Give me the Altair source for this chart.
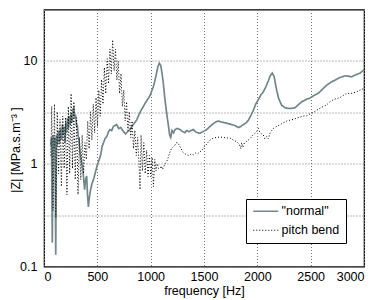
import altair as alt
import pandas as pd

# "normal" curve
normal_f = [62, 70, 78, 85, 95, 103, 110, 117, 125, 135, 145, 155, 165, 172, 180, 190, 196, 205, 212, 220,
            228, 238, 246, 255, 263, 272, 280, 288, 296, 305, 312, 320, 330, 338, 348, 360, 370, 381, 390, 400,
            408, 416, 425, 437, 450, 469, 485, 500, 515, 530, 547, 560, 572, 590, 605, 619, 635, 650, 665, 681,
            700, 720, 744, 765, 785, 806, 830, 850, 869, 890, 910, 931, 950, 970, 994, 1010, 1025, 1041, 1055, 1068,
            1081, 1095, 1108, 1119, 1133, 1150, 1165, 1178, 1188, 1200, 1215, 1228, 1250, 1275, 1300, 1320, 1338, 1360, 1380, 1400,
            1420, 1440, 1463, 1490, 1525, 1555, 1588, 1610, 1634, 1660, 1697, 1730, 1759, 1790, 1822, 1845, 1869, 1895, 1916, 1940,
            1962, 1985, 2009, 2030, 2056, 2080, 2103, 2122, 2141, 2158, 2170, 2181, 2200, 2228, 2260, 2291, 2320, 2353, 2385, 2416,
            2455, 2494, 2530, 2572, 2610, 2650, 2690, 2728, 2775, 2822, 2855, 2884, 2920, 2963, 3000]
normal_z = [1.5, 1.8, 0.17, 1.9, 1.4, 1.8, 0.13, 1.9, 1.5, 2.1, 1.6, 2.2, 1.7, 2.4, 1.9, 2.3, 1.6, 2.5, 2.0, 2.8,
            2.2, 2.9, 2.4, 3.1, 2.5, 3.4, 3.5, 2.8, 3.0, 2.3, 2.4, 1.9, 1.6, 1.3, 1.1, 0.94, 0.75, 0.56, 0.7, 0.76,
            0.5, 0.38, 0.47, 0.56, 0.64, 0.73, 0.85, 0.97, 1.08, 1.2, 1.5, 1.62, 1.75, 1.85, 2.05, 2.15, 2.1, 2.3, 2.35, 2.4,
            2.2, 2.25, 2.06, 1.95, 2.05, 2.15, 2.35, 2.5, 2.67, 3.0, 3.3, 3.6, 3.9, 4.2, 4.6, 5.1, 5.6, 6.5, 7.6, 8.8,
            9.5, 9.0, 7.4, 6.0, 4.3, 3.1, 2.4, 1.9, 1.8, 2.1, 2.0, 2.15, 2.2, 2.15, 2.05, 2.0, 2.1, 2.05, 2.1, 2.15,
            2.05, 2.0, 1.98, 2.05, 2.15, 2.3, 2.45, 2.55, 2.6, 2.55, 2.5, 2.45, 2.4, 2.35, 2.25, 2.3, 2.4, 2.5, 2.65, 2.95,
            3.3, 3.8, 4.2, 4.6, 5.0, 5.6, 6.4, 7.2, 7.6, 7.0, 6.0, 5.2, 4.3, 3.7, 3.5, 3.45, 3.45, 3.5, 3.75, 4.0,
            4.2, 4.35, 4.6, 4.85, 5.3, 5.8, 6.2, 6.5, 6.9, 7.15, 7.1, 7.0, 7.3, 7.6, 8.2]

# "pitch bend" curve
bend_f = [65, 72, 85, 98, 111, 124, 137, 150, 163, 176, 189, 202, 215, 228, 241, 254, 267, 280, 293, 306,
          319, 332, 345, 358, 371, 384, 397, 410, 423, 436, 449, 462, 475, 488, 501, 514, 527, 540, 553, 566,
          579, 592, 605, 618, 631, 644, 657, 670, 683, 696, 709, 722, 735, 748, 761, 774, 787, 800, 813, 826,
          839, 852, 865, 878, 891, 900, 910, 923, 936, 949, 962, 975, 988, 1001, 1014, 1026, 1038, 1050, 1062, 1074,
          1090, 1100, 1110, 1120, 1135,
          1150, 1165, 1180, 1195, 1210, 1225, 1240, 1256, 1270, 1285, 1300, 1320, 1340, 1360, 1380, 1400, 1420, 1440, 1460, 1480,
          1500, 1525, 1556, 1590, 1619, 1650, 1681, 1710, 1744, 1775, 1806, 1830, 1845, 1853, 1865, 1880, 1900, 1931, 1960, 1994,
          2010, 2025, 2040, 2056, 2070, 2088, 2103, 2120, 2150, 2180, 2213, 2245, 2275, 2305, 2338, 2370, 2400, 2430, 2463, 2495,
          2525, 2555, 2588, 2620, 2650, 2680, 2713, 2745, 2775, 2805, 2838, 2870, 2900, 2930, 2963, 3000]
bend_z = [1.2, 3.6, 0.35, 3.8, 0.3, 3.2, 0.8, 2.7, 0.6, 2.9, 0.9, 2.8, 0.5, 3.6, 0.8, 4.8, 0.9, 4.0, 0.7, 2.8,
          0.5, 1.8, 0.7, 1.9, 0.8, 1.6, 1.1, 2.6, 1.4, 3.2, 1.7, 3.8, 2.0, 4.4, 2.3, 5.2, 2.9, 6.6, 3.8, 8.6,
          4.8, 10.5, 6.0, 13.0, 7.5, 16.0, 8.0, 13.0, 6.5, 10.0, 4.8, 7.5, 3.6, 5.2, 2.6, 4.0, 2.1, 3.2, 1.8, 2.6,
          1.4, 2.1, 1.2, 1.8, 1.0, 0.56, 1.9, 0.85, 1.6, 0.8, 1.35, 0.75, 1.2, 0.75, 1.15, 0.6, 1.1, 0.85, 1.0, 0.9,
          0.9, 0.95, 0.88, 0.92, 1.0,
          1.05, 1.15, 1.3, 1.4, 1.45, 1.5, 1.6, 1.6, 1.5, 1.4, 1.3, 1.25, 1.22, 1.2, 1.25, 1.22, 1.27, 1.25, 1.3, 1.35,
          1.45, 1.55, 1.7, 1.78, 1.8, 1.82, 1.8, 1.78, 1.78, 1.7, 1.64, 1.55, 1.4, 1.6, 1.45, 1.6, 1.65, 1.75, 1.9, 2.06,
          2.2, 2.0, 1.95, 1.9, 1.75, 1.84, 1.75, 2.0, 2.2, 2.3, 2.4, 2.5, 2.6, 2.65, 2.7, 2.78, 2.84, 2.9, 2.93, 3.05,
          3.15, 3.3, 3.47, 3.6, 3.74, 4.0, 4.2, 4.3, 4.4, 4.6, 4.85, 4.8, 4.9, 5.0, 5.2, 5.4]

series_names = ['"normal"', "pitch bend"]

df = pd.concat([
    pd.DataFrame({"f": normal_f, "z": normal_z, "s": series_names[0], "o": 0}),
    pd.DataFrame({"f": bend_f, "z": bend_z, "s": series_names[1], "o": 1}),
])

font = "Liberation Sans"

legend_kw = dict(title=None, orient="none", legendX=202, legendY=189.5,
                 fillColor="white", strokeColor="black", padding=6,
                 symbolType="M-1,0H4", symbolSize=100, symbolStrokeWidth=1.5,
                 labelFont=font, labelFontSize=12.5, labelColor="black",
                 labelOffset=17, rowPadding=6, labelLimit=200)

chart = alt.Chart(df).mark_line(clip=True).encode(
    x=alt.X("f:Q", scale=alt.Scale(domain=[0, 3000], nice=False),
            axis=alt.Axis(title="frequency [Hz]", values=[0, 500, 1000, 1500, 2000, 2500, 3000], format="d",
                          grid=True, gridDash=[1, 2], gridColor="#777777", gridOpacity=1,
                          domain=False, ticks=False, labelPadding=4,
                          titleY=18, titleBaseline="top",
                          labelFontSize=12.5, titleFontSize=12.5, labelFont=font, titleFont=font,
                          labelColor="black", titleColor="black", titleFontWeight="normal")),
    y=alt.Y("z:Q", scale=alt.Scale(type="log", domain=[0.1, 31.623], nice=False),
            axis=alt.Axis(title="|Z|  [MPa.s.m⁻³ ]", values=[0.1, 0.31623, 1, 3.1623, 10],
                          labelExpr="datum.value == 0.1 ? '0.1' : datum.value == 1 ? '1' : datum.value == 10 ? '10' : ''",
                          grid=True, gridDash=[1, 2], gridColor="#777777", gridOpacity=1,
                          domain=False, ticks=False, labelPadding=7,
                          titleX=-29, titleY=140, titleAngle=270, titleAlign="center", titleBaseline="middle",
                          labelFontSize=12.5, titleFontSize=12.5, labelFont=font, titleFont=font,
                          labelColor="black", titleColor="black", titleFontWeight="normal")),
    color=alt.Color("s:N", scale=alt.Scale(domain=series_names, range=["#72878a", "#000000"]),
                    legend=alt.Legend(**legend_kw)),
    strokeDash=alt.StrokeDash("s:N", scale=alt.Scale(domain=series_names, range=[[1, 0], [1, 2]]),
                              legend=alt.Legend(**legend_kw)),
    strokeWidth=alt.StrokeWidth("s:N", scale=alt.Scale(domain=series_names, range=[1.7, 1.0]), legend=None),
    order="o:Q",
).properties(
    width=320, height=257,
    autosize=alt.AutoSizeParams(type="none"),
    padding={"left": 36, "top": 1.5, "right": 10, "bottom": 32},
).configure_view(
    stroke="black", strokeWidth=1.2
)

chart.save("out.html", embed_options={"renderer": "svg", "actions": False})
